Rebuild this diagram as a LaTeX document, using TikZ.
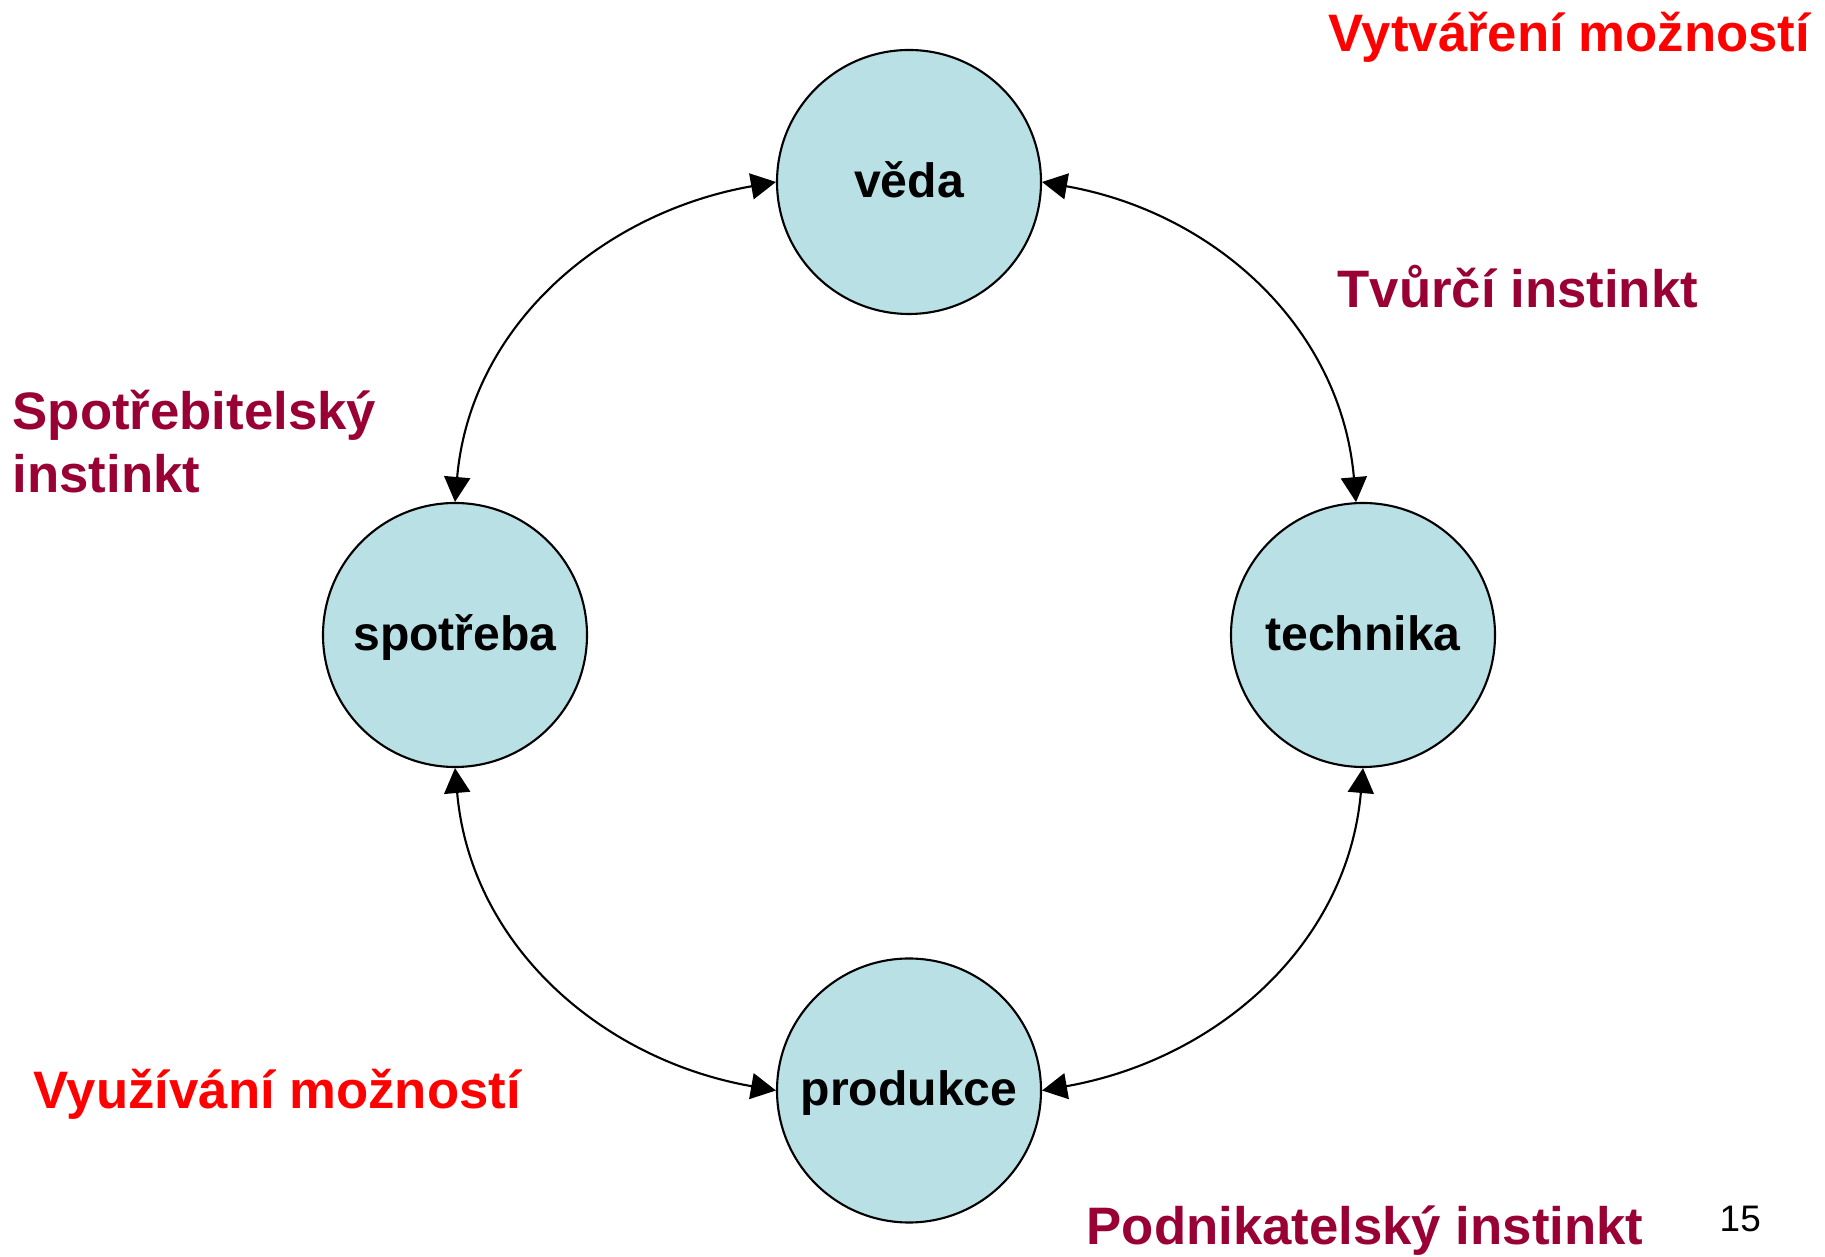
\documentclass[tikz,border=0pt]{standalone}
\usepackage{fontspec}
\setmainfont{Liberation Sans}
\usetikzlibrary{arrows.meta}

\definecolor{bubble}{RGB}{185,224,228}
\definecolor{maroon}{RGB}{153,0,51}
\definecolor{brightred}{RGB}{255,0,0}

\tikzset{
    bubble/.style={circle, draw, fill=bubble, line width=0.6pt, minimum size=2.64cm, inner sep=0pt,
        font=\fontsize{13.7}{16}\selectfont\bfseries, text height=8.6pt, text depth=0pt},
    link/.style={{Triangle[length=7.1pt,width=7.4pt]}-{Triangle[length=7.1pt,width=7.4pt]}, line width=0.6pt},
    label/.style={anchor=base west, inner sep=0pt, font=\fontsize{15}{18.2}\selectfont\bfseries}
}

\begin{document}
\begin{tikzpicture}
    \useasboundingbox (0,0) rectangle (18.25,12.56);

    \node[bubble] (veda) at (9.09,10.74) {věda};
    \node[bubble] (spotreba) at (4.55,6.21) {spotřeba};
    \node[bubble] (technika) at (13.63,6.21) {technika};
    \node[bubble] (produkce) at (9.09,1.655) {produkce};

    \draw[link] (veda.west) to[out=190,in=85] (spotreba.north);
    \draw[link] (veda.east) to[out=-10,in=95] (technika.93);
    \draw[link] (spotreba.south) to[out=-85,in=170] (produkce.west);
    \draw[link] (technika.south) to[out=-95,in=10] (produkce.east);

    \node[label, text=brightred] (vytvareni) at (13.28,12.04) {Vytváření možností};
    \node[label, text=maroon] (tvurci) at (13.37,9.48) {Tvůrčí instinkt};
    \node[label, text=maroon, align=left] (spotrebitel) at (0.12,7.63) {Spotřebitelský\\instinkt};
    \node[label, text=brightred] (vyuzivani) at (0.33,1.47) {Využívání možností};
    \node[label, text=maroon] (podnikatel) at (10.86,0.12) {Podnikatelský instinkt};
    \node[anchor=base west, inner sep=0pt, font=\fontsize{10.5}{12}\selectfont] (cislo) at (17.19,0.25) {15};
\end{tikzpicture}
\end{document}
